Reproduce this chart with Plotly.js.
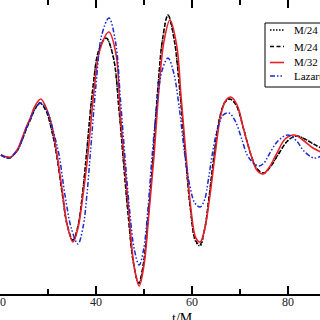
<!DOCTYPE html>
<html>
<head>
<meta charset="utf-8">
<script src="https://cdn.plot.ly/plotly-3.0.1.min.js"></script>
<style>html,body{margin:0;padding:0;background:#fff;}#chart{width:320px;height:320px;}</style>
</head>
<body>
<div id="chart"></div>
<script>
// Series names (legend labels, clipped at the right edge in the reference)
var seriesNames = ["M/24", "M/24", "M/32", "Lazarus"];

// M/24 (dotted)
var tDot = [20.2,21.0,22.0,22.8,23.7,24.6,25.4,26.3,27.3,28.3,29.6,30.9,31.8,33.0,34.0,35.2,36.2,37.2,38.0,39.3,40.6,42.1,43.6,44.8,45.6,46.7,47.8,48.9,49.9,50.9,51.9,52.9,53.9,55.0,56.3,57.5,58.6,59.7,60.7,61.7,62.6,63.6,64.6,65.8,66.9,67.9,69.2,70.7,72.3,73.6,75.0,76.3,77.9,79.9,81.7,83.5,85.3,86.9];
var vDot = [0.00,-0.02,-0.03,0.00,0.05,0.15,0.25,0.35,0.46,0.52,0.44,0.22,0,-0.40,-0.70,-0.86,-0.72,-0.38,0,0.65,1.05,1.17,0.98,0.45,0,-0.60,-1.08,-1.29,-1.08,-0.60,0,0.68,1.17,1.40,1.15,0.62,0,-0.56,-0.86,-0.91,-0.75,-0.40,0,0.38,0.53,0.56,0.50,0.27,0,-0.14,-0.18,-0.12,0,0.14,0.19,0.16,0.11,0.07];

// M/24 (dashed)
var tDash = [20.2,21.0,22.0,22.8,23.7,24.6,25.4,26.3,27.3,28.3,29.6,30.9,31.8,33.0,34.0,35.2,36.2,37.2,38.0,39.3,40.6,42.1,43.6,44.8,45.6,46.7,47.8,48.9,49.9,50.9,51.9,52.9,53.9,55.0,56.3,57.5,58.6,59.7,60.7,61.6,62.6,63.6,64.6,65.8,66.9,67.9,69.2,70.7,72.3,73.6,75.0,76.3,77.9,79.9,81.7,83.5,85.3,86.9];
var vDash = [0.00,-0.02,-0.03,0.00,0.05,0.15,0.25,0.35,0.46,0.52,0.44,0.22,0,-0.40,-0.70,-0.85,-0.72,-0.38,0,0.65,1.05,1.17,0.98,0.45,0,-0.60,-1.08,-1.28,-1.08,-0.60,0,0.68,1.17,1.40,1.15,0.62,0,-0.55,-0.85,-0.90,-0.75,-0.40,0,0.38,0.53,0.56,0.50,0.27,0,-0.14,-0.18,-0.12,0,0.14,0.19,0.16,0.11,0.07];

// M/32 (red solid)
var tRed = [20.2,20.8,21.7,22.3,22.9,23.7,24.6,25.4,26.3,27.3,28.5,29.8,31.0,31.9,33.1,34.0,35.2,36.25,37.3,38.3,39.6,40.8,42.7,44.2,45.0,45.8,46.9,47.9,49.0,50.0,51.0,52.1,53.1,54.1,55.4,56.8,57.7,58.75,59.8,60.8,61.7,62.7,63.75,64.8,66.0,67.1,68.1,69.4,70.8,72.3,73.5,74.8,76.0,77.5,79.4,81.3,83.1,85.2,86.9];
var vRed = [0,-0.01,-0.02,-0.02,0.01,0.06,0.17,0.27,0.37,0.49,0.56,0.45,0.25,0,-0.40,-0.70,-0.87,-0.73,-0.40,0,0.65,1.05,1.23,1.00,0.45,0,-0.60,-1.10,-1.31,-1.10,-0.60,0,0.65,1.12,1.35,1.10,0.60,0,-0.55,-0.83,-0.87,-0.73,-0.40,0,0.40,0.55,0.58,0.50,0.25,0,-0.15,-0.19,-0.13,0,0.16,0.20,0.15,0.07,0.03];

// Lazarus (blue dash-dot)
var tBlue = [20.2,21.0,22.0,22.8,23.7,24.6,25.4,26.3,27.3,28.5,29.9,31.2,32.3,33.6,34.9,36.25,37.3,38.1,38.8,40.0,41.2,42.7,44.1,45.1,46.0,47.0,48.0,49.0,49.9,50.8,51.7,52.8,53.8,55.0,56.2,57.4,58.5,59.6,60.6,61.7,62.6,63.4,64.2,65.4,66.5,67.7,69.0,70.3,71.5,72.8,74.0,75.0,76.0,77.9,80.0,81.8,83.3,85.4,86.9];
var vBlue = [0,-0.02,-0.03,0,0.05,0.15,0.26,0.36,0.46,0.52,0.43,0.22,0,-0.42,-0.74,-0.89,-0.72,-0.40,0,0.70,1.20,1.37,1.12,0.55,0,-0.55,-0.95,-1.10,-0.95,-0.55,0,0.55,0.85,0.97,0.82,0.45,0,-0.32,-0.48,-0.52,-0.45,-0.25,0,0.28,0.40,0.42,0.34,0.17,0,-0.08,-0.11,-0.08,0,0.14,0.20,0.14,0.04,-0.03,-0.01];

// Axis ticks
var tickVals = [20, 40, 60, 80];
var tickText = ["20", "40", "60", "80"];
var xTitle = "t/M";

var styles = [
  {color: "#000000", dash: "1.5px,1.5px", width: 1.3},
  {color: "#000000", dash: "4px,2.5px", width: 1.5},
  {color: "#e8202a", dash: "solid", width: 1.6},
  {color: "#1a2ad0", dash: "5px,2px,1.5px,2px,1.5px,2px", width: 1.5}
];
var xs = [tDot, tDash, tRed, tBlue];
var ys = [vDot, vDash, vRed, vBlue];

var traces = xs.map(function (x, i) {
  return {
    x: x, y: ys[i], type: "scatter", mode: "lines", name: seriesNames[i],
    line: {color: styles[i].color, dash: styles[i].dash, width: styles[i].width, shape: "spline", smoothing: 1},
    showlegend: false, hoverinfo: "skip"
  };
});

var serif = "Liberation Serif, Times New Roman, serif";

// Manual legend (box, samples, labels) in paper coordinates
var plotH = 294;
function py(px) { return (plotH - px) / plotH; }
var legendRows = [30, 46.5, 62.5, 76];
var shapes = [{
  type: "rect", xref: "paper", yref: "paper",
  x0: 265 / 320, x1: 1.1, y0: py(87), y1: py(23),
  line: {color: "#000", width: 1}, fillcolor: "#fff", layer: "above"
}];
var annotations = [];
legendRows.forEach(function (r, i) {
  shapes.push({
    type: "line", xref: "paper", yref: "paper",
    x0: 270 / 320, x1: 284 / 320, y0: py(r), y1: py(r),
    line: {color: styles[i].color, dash: styles[i].dash, width: styles[i].width}, layer: "above"
  });
  annotations.push({
    xref: "paper", yref: "paper", x: 292 / 320, y: py(r),
    xanchor: "left", yanchor: "middle", showarrow: false,
    text: seriesNames[i], font: {family: serif, size: 11, color: "#000"}
  });
});
annotations.push({
  xref: "paper", yref: "paper", x: 182 / 320, y: py(310),
  xanchor: "center", yanchor: "top", showarrow: false, borderpad: 0,
  text: xTitle, font: {family: serif, size: 14, color: "#000"}
});

var layout = {
  width: 320, height: 320,
  margin: {l: 0, r: 0, t: 0, b: 26, pad: 0},
  paper_bgcolor: "#fff", plot_bgcolor: "#fff",
  showlegend: false,
  xaxis: {
    range: [20.0, 86.667], showgrid: false, zeroline: false,
    showline: true, linecolor: "#000", linewidth: 2, mirror: "ticks",
    ticks: "inside", ticklen: 8, tickwidth: 1.5, tickcolor: "#000",
    tickvals: tickVals, ticktext: tickText, ticklabeloverflow: "allow",
    ticklabelstandoff: -4,
    tickfont: {family: serif, size: 12, color: "#222"},
    minor: {dtick: 10, tick0: 0, ticks: "inside", ticklen: 5, tickwidth: 1.5, tickcolor: "#000", showgrid: false}
  },
  yaxis: {range: [-1.39, 1.55], visible: false, showgrid: false, zeroline: false},
  shapes: shapes,
  annotations: annotations
};

Plotly.newPlot("chart", traces, layout, {displayModeBar: false, staticPlot: true});
</script>
</body>
</html>
